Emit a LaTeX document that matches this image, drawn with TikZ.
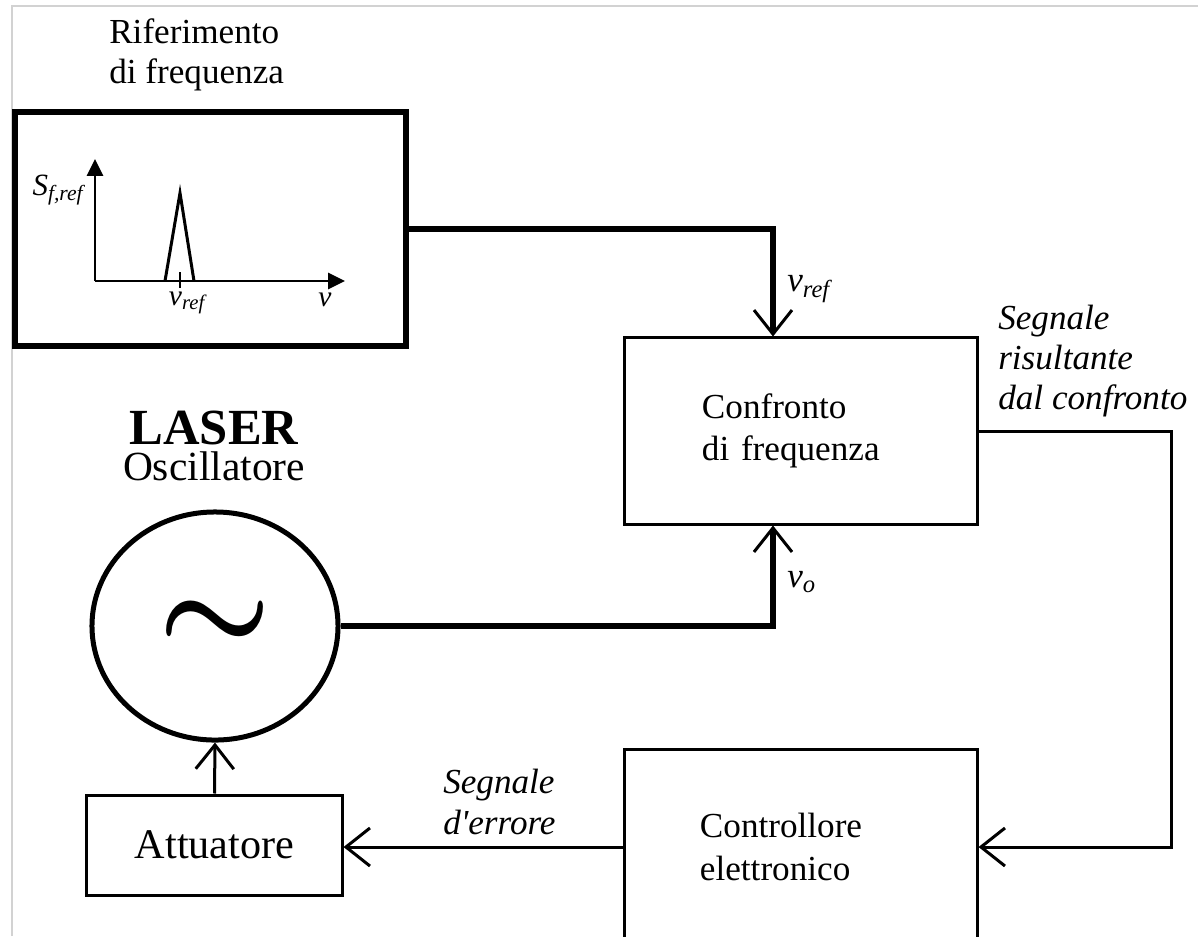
\documentclass[tikz,border=0pt]{standalone}
\usepackage{fontspec}
\setmainfont{Liberation Serif}
\usetikzlibrary{shapes.geometric, arrows.meta, positioning, calc}
\definecolor{framegray}{HTML}{D2D2D2}

\begin{document}
\begin{tikzpicture}[
  x=0.025cm, y=-0.025cm,
  blk/.style={
    rectangle,
    draw=black,
    line width=0.075cm,
    font=\fontsize{25}{30}\selectfont
  },
  wire/.style={line width=0.075cm},
  fatwire/.style={line width=0.16cm},
  barb/.style={-{Straight Barb[length=0.6cm,width=0.95cm,line width=0.075cm]}},
  lbl/.style={font=\fontsize{25}{28.5}\selectfont\itshape, align=left, inner sep=0pt},
  plotlbl/.style={font=\fontsize{21}{24}\selectfont\itshape, inner sep=0pt},
  axis/.style={line width=0.06cm, -{Triangle[length=0.42cm,width=0.4cm]}}
]
  \useasboundingbox (0,0) rectangle (1198,936);
  \draw[framegray, line width=0.05cm] (12,936) -- (12,6) -- (1198,6);

  % reference block with its spectrum
  \node[font=\fontsize{25}{28.5}\selectfont, align=left, inner sep=0pt, anchor=west] (riftitle) at (109,55) {Riferimento\\di frequenza};
  \node[blk, line width=0.16cm, minimum width=9.775cm, minimum height=5.86cm] (rif) at (210.5,229) {};
  \draw[axis] (95,281) -- (95,159);
  \draw[axis] (95,281) -- (345,281);
  \draw[line width=0.075cm] (165,281) -- (180,193) -- (194,281);
  \draw[line width=0.06cm] (180,272) -- (180,288);
  \node[plotlbl, font=\fontsize{22}{24}\selectfont\itshape] (sref) at (58,190) {S\textsubscript{f,ref}};
  \node[plotlbl] (nutick) at (187,303) {ν\textsubscript{ref}};
  \node[plotlbl] (nuaxis) at (325,300) {ν};

  % comparison and controller
  \node[blk, minimum height=4.65cm, text width=4.95cm, inner xsep=1.925cm, align=left] (conf) at (801,431) {Confronto\\di frequenza};
  \node[blk, minimum height=4.85cm, text width=5.05cm, inner xsep=1.875cm, align=left] (ctrl) at (801,847) {Controllore\\elettronico};

  % laser oscillator
  \node[font=\fontsize{29.5}{25.6}\selectfont, align=center, inner sep=0pt] (laser) at (214,445.5) {{\fontsize{36}{25.6}\selectfont\bfseries LASER}\\Oscillatore};
  \node[draw, ellipse, line width=0.125cm, minimum width=6.15cm, minimum height=5.7cm, inner sep=0pt] (osc) at (215,626) {\scalebox{9}{\boldmath$\sim$}};
  \node[blk, minimum width=6.375cm, minimum height=2.5cm, font=\fontsize{30}{36}\selectfont] (act) at (214.5,845) {Attuatore};

  % signal paths
  \draw[fatwire, barb] (rif.east) -| ([xshift=-0.7cm]conf.north);
  \draw[fatwire, barb] (osc.east) -| ([xshift=-0.7cm]conf.south);
  \draw[wire, barb] (conf.east) -- ++(193,0) |- (ctrl.east);
  \draw[wire, barb] (ctrl.west) -- (ctrl.west -| act.east);
  \draw[wire, barb] (act.north) -- (osc.south);

  \node[lbl, anchor=west] (nuref) at (787,289) {ν\textsubscript{ref}};
  \node[lbl, anchor=west] (nuo) at (787,582) {ν\textsubscript{o}};
  \node[lbl, anchor=west] (cmpsig) at (998,361) {Segnale\\risultante\\dal confronto};
  \node[lbl, anchor=west] (errsig) at (443,802) {Segnale\\d\textquotesingle errore};
\end{tikzpicture}
\end{document}
